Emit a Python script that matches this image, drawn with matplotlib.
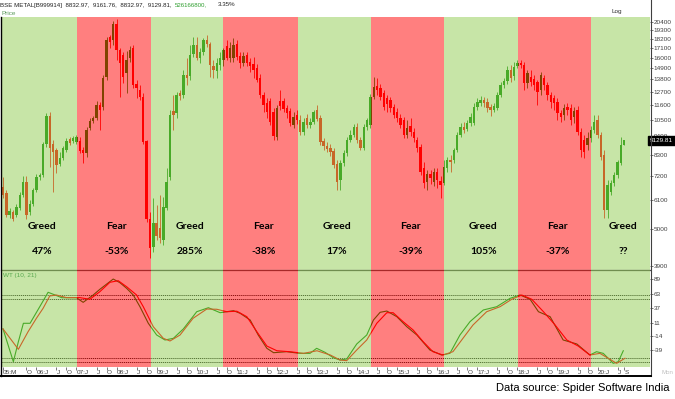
import matplotlib

matplotlib.use("Agg")
import matplotlib.pyplot as plt
import matplotlib.transforms as mtransforms
import numpy as np
from matplotlib.lines import Line2D
from matplotlib.ticker import NullFormatter, NullLocator

FIG_W, FIG_H, DPI = 675, 399, 100

# monthly BSE Metal candles, Mar 2005 .. Sep 2020
OPENS = [
    6660, 6400, 5510, 5630, 5510, 5780, 6310, 6890, 5630, 5940,
    6530, 7130, 7230, 8910, 10770, 8910, 8560, 7780, 8110, 8560,
    9220, 9100, 9040, 9100, 8560, 8390, 9930, 10410, 10630, 11610,
    11450, 14030, 18390, 18020, 20090, 16840, 16280, 14410, 15960, 17070,
    13380, 12850, 12250, 9100, 5360, 4440, 5220, 5050, 4650, 5780,
    7130, 11140, 10990, 12590, 12420, 14220, 14120, 16390, 17420, 15960,
    16620, 18020, 17540, 15110, 14610, 15220, 15740, 17310, 15960, 15960,
    17540, 16170, 15420, 16280, 15530, 15320, 14910, 13930, 12420, 11760,
    11920, 11070, 9350, 11920, 11920, 11370, 11140, 10140, 10850, 10490,
    9670, 10630, 10140, 10340, 11220, 10630, 9100, 8800, 8680, 8500,
    7780, 6990, 7840, 8390, 9160, 9470, 10000, 9160, 8680, 10000,
    10140, 12250, 13200, 13020, 12590, 12170, 12010, 11450, 11070, 10630,
    10490, 9470, 10070, 9670, 9160, 8740, 7580, 6890, 7280, 6890,
    7370, 6940, 6850, 7580, 8000, 8000, 8560, 9470, 10000, 9870,
    10270, 10270, 11450, 11760, 12010, 11840, 11450, 11220, 11370, 12420,
    13290, 13650, 14710, 14120, 15110, 15420, 15220, 13470, 14030, 13840,
    13560, 12850, 13930, 13290, 12420, 12170, 11840, 10990, 10850, 11450,
    11370, 10700, 11220, 9670, 9160, 8850, 9280, 9800, 10490, 9470,
    8270, 5700, 6440, 6850, 7230, 7840, 8832.97,
]
HIGHS = [
    7130, 6530, 5780, 5700, 5940, 6440, 7180, 7180, 6100, 6620,
    7280, 7320, 9040, 10990, 11070, 9160, 8680, 8450, 8800, 9280,
    9350, 9410, 9470, 9350, 8740, 10000, 10630, 10770, 11920, 11840,
    14220, 18390, 18640, 20500, 20780, 17070, 16620, 16730, 17310, 17420,
    13750, 13290, 12590, 9160, 5630, 6180, 5900, 6310, 6230, 7580,
    11220, 12420, 12670, 12850, 14710, 15960, 17420, 18390, 18390, 17070,
    18270, 18640, 17780, 15740, 15960, 16620, 17070, 18020, 17780, 18270,
    18020, 16620, 16620, 16620, 15960, 16060, 15320, 14320, 12670, 12170,
    12170, 11370, 11610, 12850, 12170, 11610, 11370, 11070, 11220, 10850,
    10630, 10920, 10630, 11220, 11610, 10850, 9280, 9040, 8910, 8680,
    8000, 8000, 8560, 9350, 9800, 10210, 10270, 9350, 10210, 10630,
    12500, 14030, 13930, 13380, 12850, 12420, 12250, 11690, 11370, 10920,
    10700, 10490, 10630, 9930, 9350, 8910, 7890, 7470, 7470, 7580,
    7580, 7180, 8000, 8160, 8270, 8680, 9670, 10270, 10340, 10490,
    10990, 11760, 12170, 12340, 12250, 12170, 11690, 11760, 12670, 13560,
    13930, 15110, 15220, 15530, 15740, 15740, 15530, 14710, 14710, 14220,
    13750, 14510, 14220, 13560, 12670, 12420, 12170, 11220, 11690, 11760,
    11690, 11450, 11530, 9930, 9470, 9670, 10070, 10850, 10850, 9670,
    8560, 6990, 6990, 7370, 8000, 9350, 9161.76,
]
LOWS = [
    6180, 5440, 5400, 5290, 5440, 5700, 6230, 5360, 5510, 5860,
    6440, 6990, 7130, 8740, 7630, 6440, 7320, 7680, 8000, 8450,
    8850, 8980, 8910, 8390, 7840, 8160, 9800, 10270, 10490, 9800,
    11220, 13750, 17070, 17420, 15740, 12250, 13470, 12590, 15530, 13020,
    12170, 12010, 8910, 5260, 4120, 4290, 4650, 4560, 4500, 5700,
    6990, 9800, 10630, 12010, 12170, 13290, 13750, 16060, 15740, 15420,
    16280, 17190, 14030, 13930, 13930, 14710, 15110, 15740, 15530, 15530,
    15740, 14910, 15110, 15110, 14510, 13930, 13560, 12170, 11070, 10630,
    10140, 9160, 9160, 11220, 11070, 10630, 10070, 9930, 10210, 9470,
    9470, 9930, 9930, 10210, 10410, 8850, 8560, 8450, 8220, 7580,
    6530, 6530, 7680, 8220, 9040, 9350, 8980, 8560, 8560, 9800,
    9930, 12090, 12420, 12010, 11220, 11070, 11070, 10630, 10340, 9930,
    9280, 9280, 9410, 9040, 8450, 7230, 6620, 6530, 6800, 6710,
    6620, 6180, 6750, 7370, 7370, 7840, 8450, 9350, 9600, 9730,
    10070, 10140, 11220, 11530, 11450, 11070, 10770, 11070, 11220, 12250,
    13020, 13380, 13560, 13750, 14910, 14910, 12850, 13020, 13200, 12850,
    11610, 12420, 12850, 12010, 11370, 11220, 10490, 10340, 10490, 10850,
    10140, 10270, 9470, 8160, 8110, 8560, 9040, 9600, 9280, 8000,
    5400, 5400, 6310, 6710, 7080, 7730, 8832.97,
]
CLOSES = [
    6310, 5510, 5660, 5360, 5820, 6310, 6890, 5510, 5940, 6530,
    7130, 7230, 8910, 10770, 8680, 8450, 7730, 8110, 8680, 9100,
    8980, 9280, 9350, 8500, 8390, 9800, 10410, 10630, 11610, 11220,
    13930, 18020, 17780, 20090, 16840, 15420, 14030, 15740, 16840, 13290,
    13020, 12250, 9040, 5360, 4410, 5220, 4780, 4720, 5820, 6890,
    10850, 10850, 12420, 12340, 14220, 13930, 16280, 17420, 15960, 16620,
    18020, 17540, 15220, 14710, 15420, 15960, 16840, 15960, 17070, 17420,
    16060, 15420, 16170, 15420, 15110, 14710, 13750, 12420, 11610, 11070,
    10340, 9410, 11370, 11530, 11300, 10990, 10270, 10700, 10490, 9670,
    10340, 10140, 10340, 11070, 10560, 9040, 8800, 8620, 8450, 7730,
    6890, 7840, 8390, 9160, 9470, 10000, 9160, 8680, 10000, 10490,
    12250, 13110, 12850, 12250, 11450, 11690, 11370, 10850, 10630, 10140,
    9470, 9930, 9670, 9280, 8680, 7370, 6850, 7280, 7080, 7370,
    6990, 6750, 7630, 8000, 7890, 8560, 9470, 10000, 9800, 10270,
    10700, 11450, 11840, 12010, 11760, 11370, 11220, 11530, 12420, 13290,
    13650, 14710, 13930, 15010, 15420, 15220, 13470, 14410, 13560, 13290,
    12670, 14220, 13290, 12420, 11840, 11760, 10990, 10700, 11370, 11220,
    10490, 11140, 9670, 8560, 8450, 9280, 9800, 10340, 9470, 8160,
    5700, 6750, 6850, 7230, 7890, 8850, 9129.81,
]
LAST_VOLUME = "526166800"
LAST_CHANGE = "3.35%"

# WaveTrend (10, 21): month index / value
WT1_X = [0, 3.1, 4.6, 6.1, 8.1, 11, 13.5, 15.6, 17.6, 22, 24, 27, 29, 33, 35,
         37, 39, 41, 43.5, 46, 48.5, 51, 54, 58, 61.5, 65, 69, 71, 74, 76.4,
         79, 81, 84.9, 88.8, 91.9, 93.9, 96.4, 98.9, 100.9, 102.9, 105.9,
         108.9, 110.9, 112.9, 114.9, 117.9, 120.9, 123.9, 127.8, 131.3, 133.8,
         136.8, 139.8, 143.8, 147.8, 151.8, 154.8, 157.8, 160.3, 163.8, 167.7,
         171.8, 175.7, 177.7, 179.7, 182.7, 184.2, 185.7]
WT1_Y = [-0.4, -59.5, -23.5, 9.7, 9.7, 39.6, 65.6, 60.7, 55.8, 55.8, 47.5,
         60.7, 71, 89.5, 82.9, 72.8, 60.7, 39.6, 9.7, -11.4, -20.4, -17.4,
         -0.4, 30.6, 37.8, 28.8, 32.4, 27.7, 15.6, -11.4, -35.4, -43.3, -41.5,
         -44.5, -44.5, -35.4, -42.6, -52.4, -56.5, -54.7, -27.6, -11.4, 15.6,
         29.5, 31.8, 21.6, 3.5, -11.4, -38.4, -47.5, -44.5, -11.4, 12.6, 33.7,
         39.6, 54.7, 60.7, 53, 30.6, 21.6, -20.4, -27.6, -47.5, -41.5, -44.5,
         -62.5, -59.5, -39.8]
WT2_X = [0, 4.6, 7.5, 10, 12, 14, 16, 19, 23, 26, 29, 32, 34.5, 37, 40, 42,
         45, 48, 50, 53, 56.9, 61, 64, 67, 70, 73, 76, 79, 82, 86, 90, 94, 98,
         100.9, 102.9, 105.9, 108.9, 111.9, 114.9, 116.8, 119.8, 122.8, 125.8,
         128.7, 131.7, 134.7, 137.7, 140.7, 144.8, 148.8, 152.3, 155.3, 158.3,
         161.8, 165.3, 168.8, 172.2, 175.7, 178.7, 181.7, 183.7, 186.2]
WT2_Y = [-0.4, -37.2, -5.5, 18.7, 36.7, 59, 60.7, 56, 56, 53, 66.7, 83.6,
         86.5, 75.7, 60.7, 39.6, 3.5, -17.4, -22.2, -11.4, 18.7, 35.4, 35,
         30.6, 31.5, 21.6, -5.5, -31.3, -39.8, -41.6, -44.5, -39.8, -47.5,
         -56.5, -57.7, -38.4, -20.4, 9.7, 28.8, 28.8, 12.6, -2.4, -23.5,
         -41.5, -47.5, -41.5, -17.4, 6.6, 30.6, 39.6, 53, 60.7, 53, 30.6, 6.6,
         -20.4, -31.3, -47.5, -44.5, -55.2, -62.5, -53.4]
WT_LEVELS = [60, 53, -53, -60]

# sentiment regimes (edges in month index)
REGIME_EDGES = [-0.6, 22.2, 44.2, 66.0, 88.2, 110.2, 132.0, 154.1, 176.1, 193.7]
REGIME_NAMES = ["Greed", "Fear", "Greed", "Fear", "Greed", "Fear", "Greed", "Fear", "Greed"]
REGIME_MOVES = ["47%", "-53%", "285%", "-38%", "17%", "-39%", "105%", "-37%", "??"]

PRICE_TICKS = [20400, 19300, 18200, 17100, 16000, 14900, 13800, 12700,
               11600, 10500, 9400, 8300, 7200, 6100, 5000, 3900]
WT_TICKS = [89, 63, 37, 11, -14, -39]

TICK_MONTHS = [
    "2005-03", "2005-10",
    "2006-01", "2006-07", "2006-10", "2007-01", "2007-07", "2007-10",
    "2008-01", "2008-07", "2008-10", "2009-01", "2009-07", "2009-10",
    "2010-01", "2010-07", "2010-10", "2011-01", "2011-07", "2011-10",
    "2012-01", "2012-07", "2012-10", "2013-01", "2013-07", "2013-10",
    "2014-01", "2014-07", "2014-10", "2015-01", "2015-07", "2015-10",
    "2016-01", "2016-07", "2016-10", "2017-01", "2017-07", "2017-10",
    "2018-01", "2018-07", "2018-10", "2019-01", "2019-07", "2019-10",
    "2020-01", "2020-07", "2020-09",
]
TICK_LABELS = [
    "05:M", "O",
    "06:J", "J", "O", "07:J", "J", "O", "08:J", "J", "O", "09:J", "J", "O",
    "10:J", "J", "O", "11:J", "J", "O", "12:J", "J", "O", "13:J", "J", "O",
    "14:J", "J", "O", "15:J", "J", "O", "16:J", "J", "O", "17:J", "J", "O",
    "18:J", "J", "O", "19:J", "J", "O", "20:J", "J", "S",
]

UP_COLOR = "#008700"
DOWN_COLOR = "#ff0000"
GREED_COLOR = "#91cd51"
FEAR_COLOR = "#ff0101"
AXIS_TEXT = "#404040"


def px_rect(x0, y0, x1, y1):
    """pixel box (top-left origin) -> figure fraction rect"""
    return [x0 / FIG_W, 1 - y1 / FIG_H, (x1 - x0) / FIG_W, (y1 - y0) / FIG_H]


def month_index(ym: str) -> int:
    year, month = (int(v) for v in ym.split("-"))
    return (year - 2005) * 12 + (month - 3)


def draw_regimes(ax):
    for k, name in enumerate(REGIME_NAMES):
        color = GREED_COLOR if name == "Greed" else FEAR_COLOR
        ax.axvspan(REGIME_EDGES[k], REGIME_EDGES[k + 1], color=color, alpha=0.5, lw=0, zorder=3)


def draw_candles(ax):
    o = np.array(OPENS, dtype=float)
    h = np.array(HIGHS, dtype=float)
    l = np.array(LOWS, dtype=float)
    c = np.array(CLOSES, dtype=float)
    x = np.arange(len(c))
    colors = np.where(c >= o, UP_COLOR, DOWN_COLOR)
    ax.vlines(x, l, h, colors=colors, lw=0.6, zorder=1.5)
    bottom = np.minimum(o, c)
    height = np.maximum(np.abs(c - o), bottom * 0.006)
    ax.bar(x, height, bottom=bottom, width=0.72, color=colors, lw=0, zorder=2)


def style_right_axis(ax):
    ax.yaxis.tick_right()
    ax.tick_params(axis="y", which="major", labelsize=4.6, length=1.8, pad=1,
                   width=0.5, colors=AXIS_TEXT)
    ax.tick_params(axis="x", which="both", bottom=False, labelbottom=False)
    for label in ax.get_yticklabels():
        label.set_fontfamily("Liberation Sans")
    for side in ("left", "right", "top", "bottom"):
        ax.spines[side].set_visible(False)


fig = plt.figure(figsize=(FIG_W / DPI, FIG_H / DPI), dpi=DPI)
xlim = (REGIME_EDGES[0], REGIME_EDGES[-1])

# price panel
ax_p = fig.add_axes(px_rect(1, 17, 650, 270))
draw_candles(ax_p)
draw_regimes(ax_p)
ax_p.set_yscale("log")
ax_p.set_xlim(*xlim)
ax_p.set_ylim(3797, 21059)
ax_p.set_yticks(PRICE_TICKS)
ax_p.set_yticklabels([str(v) for v in PRICE_TICKS])
ax_p.yaxis.set_minor_locator(NullLocator())
ax_p.yaxis.set_minor_formatter(NullFormatter())
style_right_axis(ax_p)

blend = mtransforms.blended_transform_factory(ax_p.transData, ax_p.transAxes)
for k, (name, move) in enumerate(zip(REGIME_NAMES, REGIME_MOVES)):
    xc = (REGIME_EDGES[k] + REGIME_EDGES[k + 1]) / 2 + 0.8
    ax_p.text(xc, 0.171, name, transform=blend, ha="center", va="center",
              fontsize=7.5, fontweight="bold", family="Lato", zorder=5)
    ax_p.text(xc, 0.072, move, transform=blend, ha="center", va="center",
              fontsize=7.5, fontweight="bold", family="Lato", zorder=5)

last_close = CLOSES[-1]
ax_p.text(1.0, last_close, f"{last_close:.2f}",
          transform=mtransforms.blended_transform_factory(ax_p.transAxes, ax_p.transData),
          ha="left", va="center", fontsize=4.6, color="white", family="Liberation Sans",
          bbox=dict(boxstyle="square,pad=0.25", facecolor="black", edgecolor="black"),
          clip_on=False, zorder=6)

# oscillator panel
ax_w = fig.add_axes(px_rect(1, 270, 650, 367))
for lvl in WT_LEVELS:
    ax_w.axhline(lvl, color="#202020", lw=0.7, ls=(0, (1.2, 0.8)), zorder=1)
ax_w.plot(WT1_X, WT1_Y, color=UP_COLOR, lw=0.8, zorder=2)
ax_w.plot(WT2_X, WT2_Y, color=DOWN_COLOR, lw=0.8, zorder=2)
draw_regimes(ax_w)
ax_w.set_xlim(*xlim)
ax_w.set_ylim(-69.1, 105.8)
ax_w.set_yticks(WT_TICKS)
ax_w.set_yticklabels([str(v) for v in WT_TICKS])
style_right_axis(ax_w)
ax_w.spines["top"].set_visible(True)
ax_w.spines["top"].set_color("#505050")
ax_w.spines["top"].set_linewidth(0.9)

ax_w.set_xticks([month_index(m) for m in TICK_MONTHS])
ax_w.set_xticklabels(TICK_LABELS, ha="left", fontsize=4.6, family="Liberation Sans")
ax_w.tick_params(axis="x", which="major", bottom=True, labelbottom=True, length=1.8,
                 width=0.5, pad=0.6, colors=AXIS_TEXT)
ax_w.text(0.003, 0.945, "WT (10, 21)", transform=ax_w.transAxes, fontsize=4.6,
          color="#58a84e", family="Liberation Sans", va="center", zorder=6)

# frame lines
fig.add_artist(Line2D([650.5 / FIG_W] * 2, [1, 1 - 376 / FIG_H], color="#404040", lw=0.8))
fig.add_artist(Line2D([0, 650.5 / FIG_W], [1 - 376 / FIG_H] * 2, color="black", lw=1.4))
fig.add_artist(Line2D([0.5 / FIG_W] * 2, [1 - 17 / FIG_H, 1 - 376 / FIG_H], color="black", lw=1.0))

# header
hdr_y = 1 - 5 / FIG_H
ohlc = f"{OPENS[-1]:.2f},  {HIGHS[-1]:.2f},  {LOWS[-1]:.2f},  {CLOSES[-1]:.2f},"
fig.text(0.5 / FIG_W, hdr_y, "BSE METAL[B999914]  " + ohlc, fontsize=4.4,
         family="Liberation Sans", va="center", color="#202020")
fig.text(175 / FIG_W, hdr_y, LAST_VOLUME + ",", fontsize=4.4, family="Liberation Sans",
         va="center", color="#2f9e2f")
fig.text(218 / FIG_W, hdr_y, LAST_CHANGE, fontsize=4.4, family="Liberation Sans",
         va="center", color="#202020")
fig.text(1 / FIG_W, 1 - 13.5 / FIG_H, "Price", fontsize=4.6, family="Liberation Sans",
         va="center", color="#5a9a5a")
fig.text(612 / FIG_W, 1 - 12 / FIG_H, "Log", fontsize=4.6, family="Liberation Sans",
         va="center", color="#303030")
fig.text(661 / FIG_W, 1 - 372 / FIG_H, "Mon", fontsize=4.4, family="Liberation Sans",
         va="center", color="#c0c0c0")
fig.text(670 / FIG_W, 1 - 388 / FIG_H, "Data source: Spider Software India", ha="right",
         va="center", fontsize=8, family="Liberation Sans", color="black")

fig.savefig("out.png", dpi=DPI)
